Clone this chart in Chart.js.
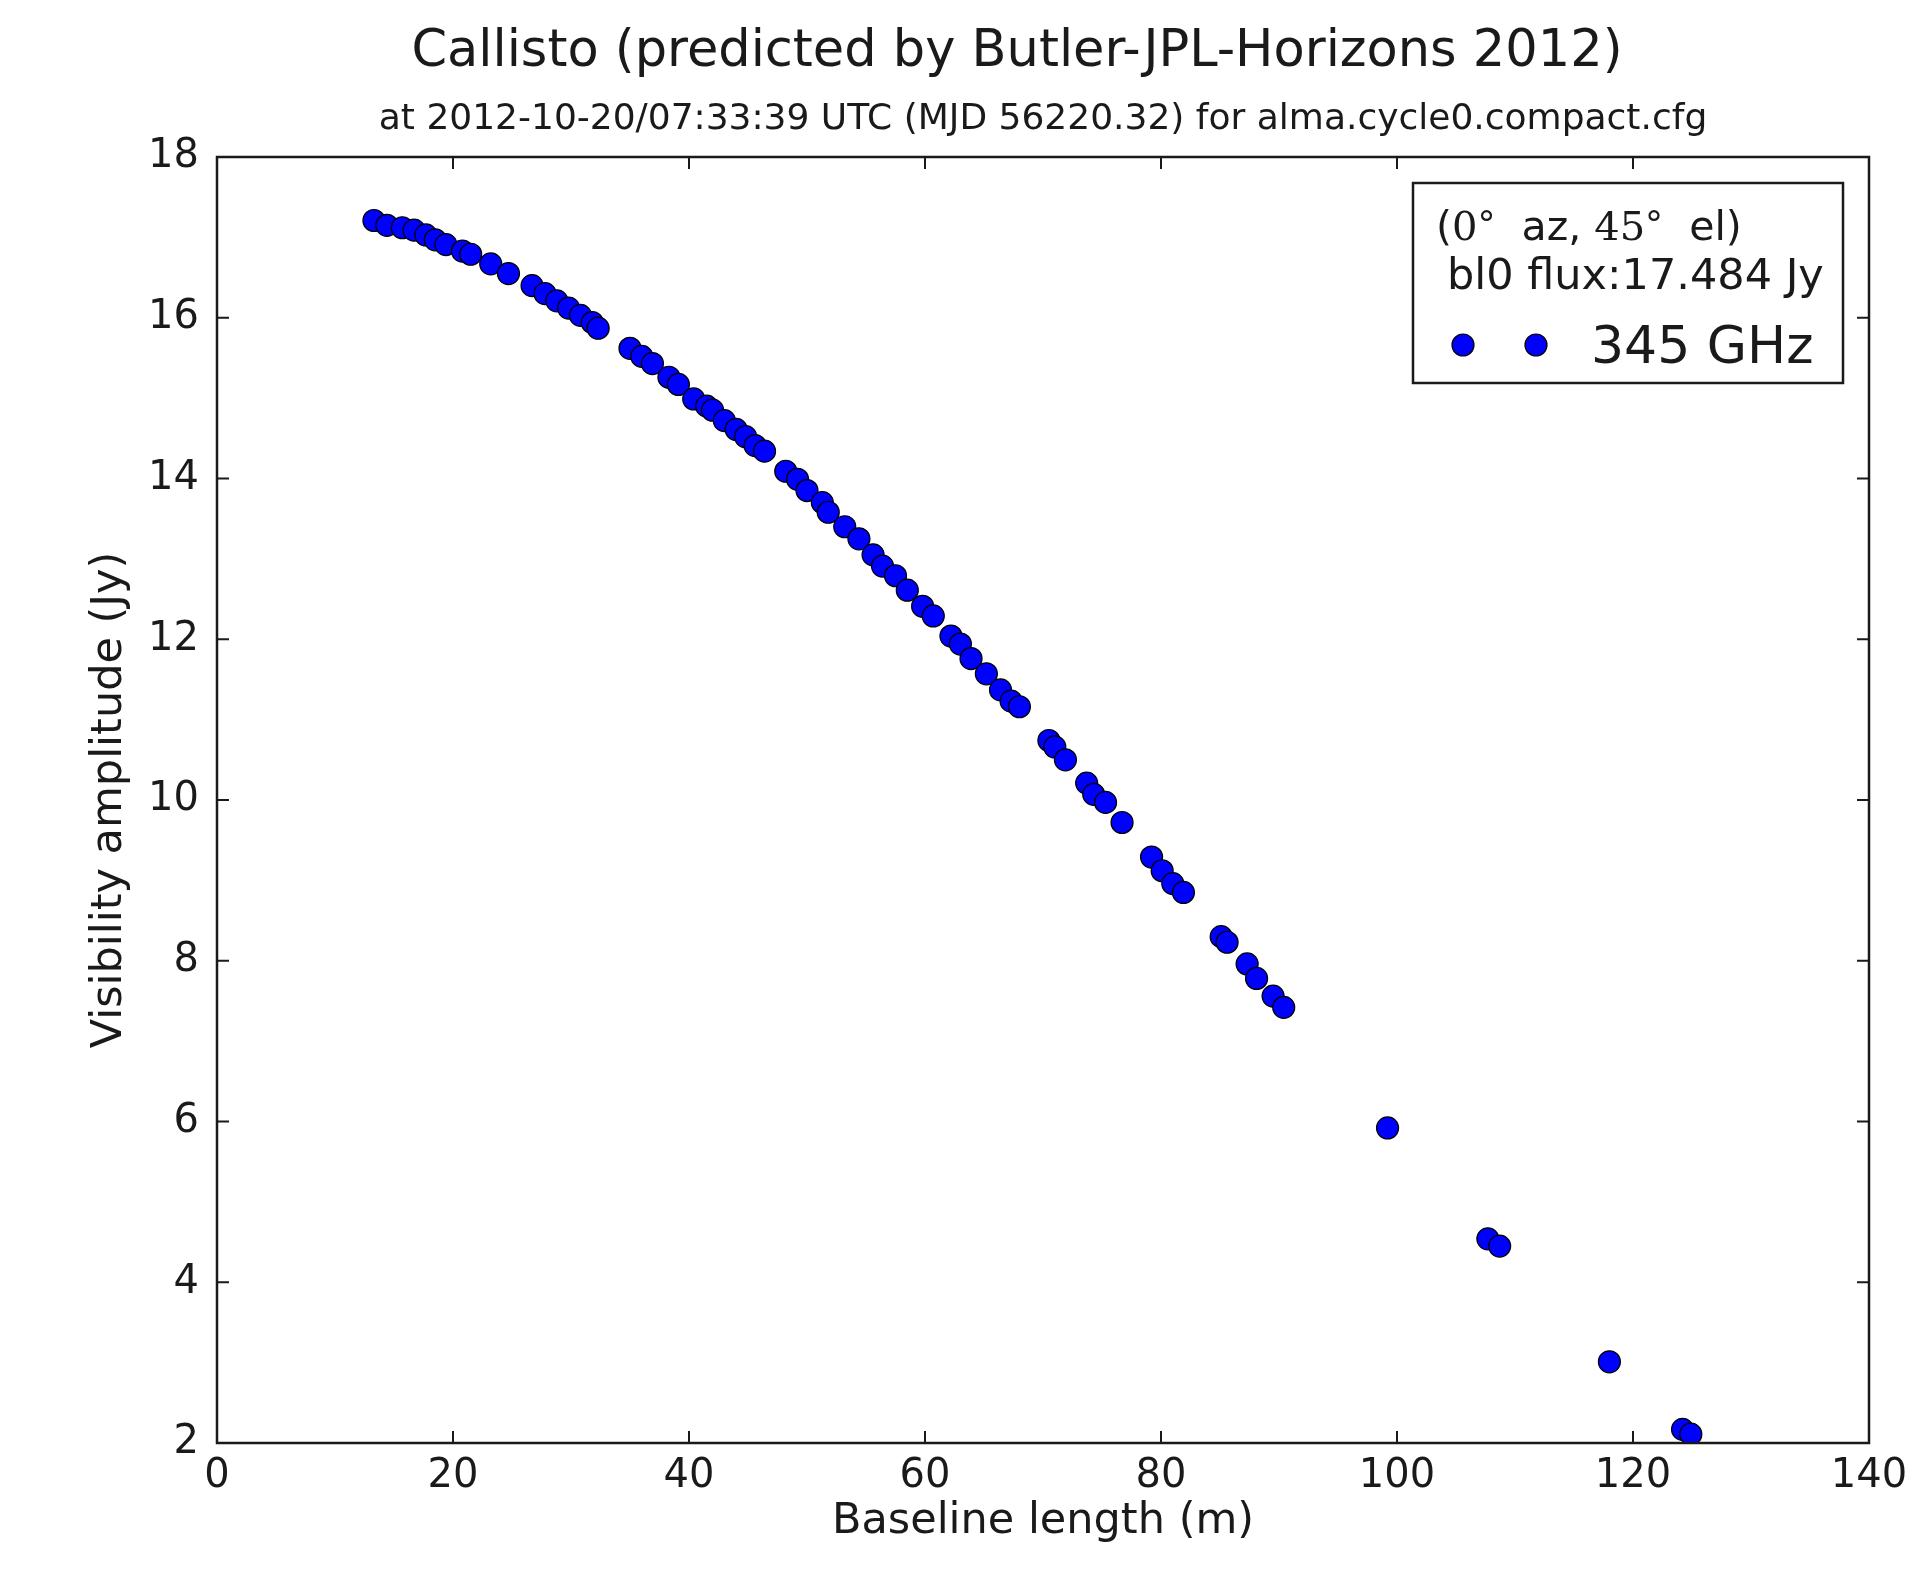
<!DOCTYPE html>
<html>
<head>
<meta charset="utf-8">
<script src="https://cdn.jsdelivr.net/npm/chart.js"></script>
<style>
html,body{margin:0;padding:0;background:#fff;}
#wrap{width:1909px;height:1569px;position:relative;}
</style>
</head>
<body>
<div id="wrap"><canvas id="c"></canvas></div>
<script>
/* ================= DATA ================= */
const baseline = [13.3,14.4,15.7,16.7,17.7,18.5,19.4,20.8,21.5,23.2,24.7,26.7,27.8,28.8,29.8,30.8,31.8,32.3,
  35.0,36.0,36.9,38.3,39.1,40.4,41.5,42.0,43.0,44.0,44.8,45.6,46.4,48.2,49.2,50.0,51.3,51.8,53.2,54.4,55.6,56.4,
  57.5,58.5,59.8,60.7,62.2,63.0,63.9,65.2,66.4,67.3,68.0,70.5,71.0,71.9,73.7,74.3,75.3,76.7,79.2,80.1,81.0,81.9,
  85.1,85.6,87.3,88.1,89.5,90.4,99.2,107.7,108.7,118.0,124.2,124.9];
const amplitude = [17.21,17.15,17.12,17.09,17.03,16.97,16.91,16.83,16.79,16.67,16.55,16.40,16.30,16.21,16.12,16.03,15.94,15.87,
  15.62,15.52,15.43,15.26,15.17,14.99,14.90,14.85,14.72,14.61,14.52,14.41,14.34,14.09,13.99,13.85,13.70,13.58,13.40,13.25,13.05,12.91,
  12.79,12.61,12.41,12.29,12.04,11.94,11.76,11.57,11.37,11.23,11.16,10.74,10.66,10.50,10.21,10.07,9.97,9.72,9.29,9.12,8.96,8.85,
  8.30,8.23,7.96,7.78,7.56,7.42,5.92,4.54,4.45,3.01,2.17,2.11];
const xTicks = [0,20,40,60,80,100,120,140];
const yTicks = [2,4,6,8,10,12,14,16,18];
const titleText = 'Callisto (predicted by Butler-JPL-Horizons 2012)';
const subtitleText = 'at 2012-10-20/07:33:39 UTC (MJD 56220.32) for alma.cycle0.compact.cfg';
const xLabel = 'Baseline length (m)';
const yLabel = 'Visibility amplitude (Jy)';
const seriesName = '345 GHz';
const legendLine2 = 'bl0 flux:17.484 Jy';

/* ================= STYLE ================= */
const FONT = '"DejaVu Sans", sans-serif';
const SERIF = '"DejaVu Serif", serif';
const INK = '#1a1a1a';
const BLUE = '#0000ff';

const cv = document.getElementById('c');
cv.width = 1909; cv.height = 1569;

/* frame, inward ticks, titles, axis labels, legend */
const decor = {
  id:'decor',
  afterDatasetsDraw(chart){
    const {ctx, chartArea:a, scales:{x,y}} = chart;
    ctx.save();
    ctx.strokeStyle = INK; ctx.lineWidth = 2;
    const tl = 12;
    xTicks.forEach(v=>{
      const px = x.getPixelForValue(v);
      ctx.beginPath(); ctx.moveTo(px,a.bottom); ctx.lineTo(px,a.bottom-tl);
      ctx.moveTo(px,a.top); ctx.lineTo(px,a.top+tl); ctx.stroke();
    });
    yTicks.forEach(v=>{
      const py = y.getPixelForValue(v);
      ctx.beginPath(); ctx.moveTo(a.left,py); ctx.lineTo(a.left+tl,py);
      ctx.moveTo(a.right,py); ctx.lineTo(a.right-tl,py); ctx.stroke();
    });
    ctx.lineWidth = 2.5;
    ctx.strokeRect(a.left,a.top,a.right-a.left,a.bottom-a.top);

    // titles
    ctx.fillStyle = INK; ctx.textAlign = 'center'; ctx.textBaseline = 'alphabetic';
    ctx.font = '51px '+FONT; ctx.fillText(titleText,1017,66);
    ctx.font = '36px '+FONT; ctx.fillText(subtitleText,(a.left+a.right)/2,129);

    // axis labels
    ctx.font = '43px '+FONT; ctx.textBaseline = 'middle';
    ctx.fillText(xLabel,(a.left+a.right)/2,1522);
    ctx.save(); ctx.translate(110,(a.top+a.bottom)/2); ctx.rotate(-Math.PI/2);
    ctx.fillText(yLabel,0,0); ctx.restore();

    // legend box
    const bx=1413, by=183, bw=430, bh=200;
    ctx.fillStyle='#fff'; ctx.fillRect(bx,by,bw,bh);
    ctx.lineWidth=2.5; ctx.strokeStyle=INK; ctx.strokeRect(bx,by,bw,bh);
    ctx.fillStyle=INK; ctx.textAlign='left'; ctx.textBaseline='alphabetic';
    let cx = 1436;
    const seg = (t,f,dy=0)=>{ctx.font=f; ctx.fillText(t,cx,240+dy); cx+=ctx.measureText(t).width;};
    seg('(', '41px '+FONT);
    seg('0', '40px '+SERIF);
    seg('\u00b0', '36px '+FONT, -4);
    seg('  az, ', '41px '+FONT);
    seg('45', '40px '+SERIF);
    seg('\u00b0', '36px '+FONT, -4);
    seg('  el)', '41px '+FONT);
    ctx.font='43px '+FONT; ctx.fillText(legendLine2,1447,289);
    [1463,1536].forEach(mx=>{
      ctx.beginPath(); ctx.arc(mx,345,11,0,Math.PI*2);
      ctx.fillStyle=BLUE; ctx.fill(); ctx.lineWidth=1.2; ctx.strokeStyle='#000'; ctx.stroke();
    });
    ctx.fillStyle=INK; ctx.font='52px '+FONT; ctx.fillText(seriesName,1591,363);
    ctx.restore();
  }
};

new Chart(cv,{
  type:'scatter',
  data:{
    datasets:[{
      label:seriesName,
      data: baseline.map((b,i)=>({x:b,y:amplitude[i]})),
      pointRadius:11,
      pointBackgroundColor:BLUE,
      pointBorderColor:'#000',
      pointBorderWidth:1.2
    }]
  },
  options:{
    responsive:false,
    animation:false,
    devicePixelRatio:1,
    layout:{padding:{top:157,right:40,left:0,bottom:0}},
    plugins:{legend:{display:false},tooltip:{enabled:false}},
    scales:{
      x:{
        type:'linear', min:0, max:140,
        afterBuildTicks: s=>{ s.ticks = xTicks.map(v=>({value:v})); },
        afterFit: s=>{ s.height = 126; s.paddingLeft = 0; s.paddingRight = 0; },
        grid:{display:false, drawTicks:false},
        border:{display:false},
        ticks:{color:INK, font:{family:FONT,size:40}, padding:10, maxRotation:0, autoSkip:false}
      },
      y:{
        type:'linear', min:2, max:18,
        afterBuildTicks: s=>{ s.ticks = yTicks.map(v=>({value:v})); },
        afterFit: s=>{ s.width = 217; s.paddingTop = 0; s.paddingBottom = 0; },
        grid:{display:false, drawTicks:false},
        border:{display:false},
        ticks:{color:INK, font:{family:FONT,size:40}, padding:18, autoSkip:false}
      }
    }
  },
  plugins:[decor]
});
</script>
</body>
</html>
